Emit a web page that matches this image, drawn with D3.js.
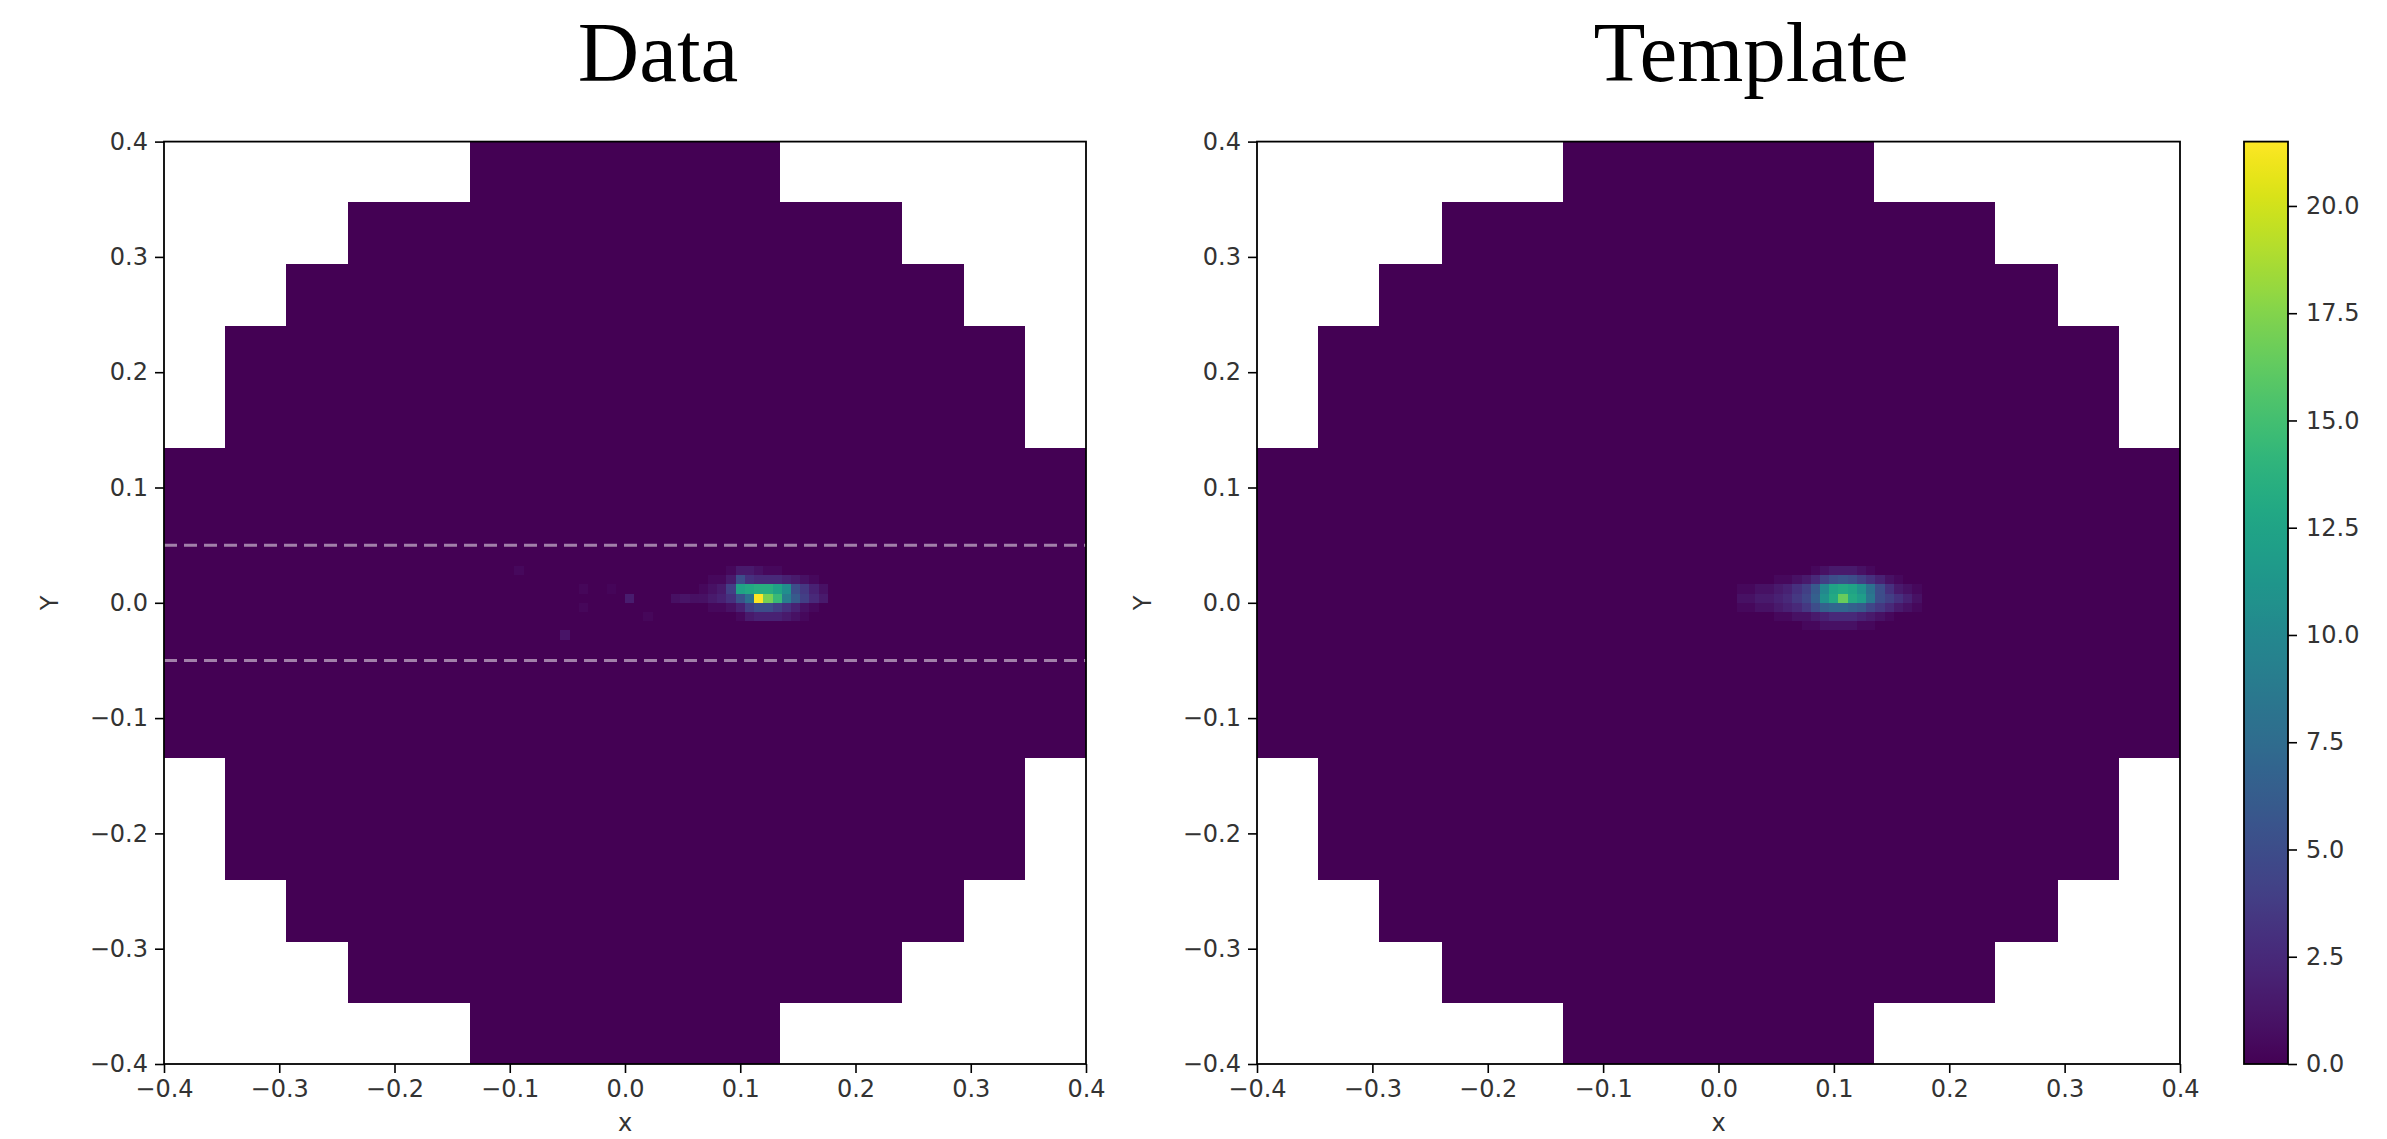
<!DOCTYPE html>
<html>
<head>
<meta charset="utf-8">
<script src="https://cdn.jsdelivr.net/npm/d3@7"></script>
<style>
  html, body { margin: 0; padding: 0; background: #fff; }
  svg { display: block; }
</style>
</head>
<body>
<svg id="chart" width="2387" height="1139"></svg>
<script>
// ---------------- DATA ----------------
const axisTicks = [-0.4, -0.3, -0.2, -0.1, 0.0, 0.1, 0.2, 0.3, 0.4];
const colorbarTicks = [0, 2.5, 5, 7.5, 10, 12.5, 15, 17.5, 20];
const colorMax = 21.5;
const binSize = 0.008;
const bandGuides = [0.05, -0.05];            // dashed lines on Data panel
// detector footprint: symmetric edges (staircase circle)
const footprintEdges = [0.1345, 0.240, 0.294, 0.3475, 0.4];

// Data hotspot grid: columns (x lower edges) and rows (y lower edges, top to bottom)
const dataCols = [0.064, 0.072, 0.080, 0.088, 0.096, 0.104, 0.112, 0.120, 0.128, 0.136, 0.144, 0.152, 0.160, 0.168];
const dataRows = [0.024, 0.016, 0.008, 0.000, -0.008, -0.016];
const dataValues = [
  [0,   0,   0,   0.5, 1.5, 1.5, 1,   0.5, 0.5, 0,   0,   0,   0,   0  ],
  [0,   0.5, 0.5, 1.5, 5,   3,   2.5, 2.5, 2.5, 2,   1.5, 1,   0.5, 0  ],
  [0.5, 1,   1.5, 4,   12.5,13,  13.5,13.5,12.5,10.5,5,   3.5, 2,   1  ],
  [1,   1.5, 2,   3,   5.5, 8,   21.5,17,  14.5,9,   6,   4,   2.5, 1.5],
  [0,   0.5, 0.5, 1,   2,   4,   5,   5,   4,   3,   2,   1,   0.5, 0  ],
  [0,   0,   0,   0,   0.5, 1.5, 2,   2,   2,   1.5, 1,   0.5, 0,   0  ]
];
// isolated faint hits in Data panel: [x lower edge, y lower edge, value]
const dataScatter = [
  [0.000, 0.000, 1.6], [0.040, 0.000, 0.9], [0.048, 0.000, 1.1], [0.056, 0.000, 0.9],
  [-0.056, -0.032, 1.1], [-0.040, 0.008, 0.4], [-0.040, -0.008, 0.4],
  [-0.096, 0.024, 0.5], [0.016, -0.016, 0.4], [-0.016, 0.008, 0.3]
];

// Template grid
const tmplCols = [0.016, 0.024, 0.032, 0.040, 0.048, 0.056, 0.064, 0.072, 0.080, 0.088, 0.096, 0.104, 0.112, 0.120, 0.128, 0.136, 0.144, 0.152, 0.160, 0.168];
const tmplRows = [0.024, 0.016, 0.008, 0.000, -0.008, -0.016, -0.024];
const tmplValues = [
  [0,   0,   0,   0,   0,   0,   0,   0,   0.5, 1,   1.5, 1.5, 1.5, 1,   0.5, 0,   0,   0,   0,   0  ],
  [0,   0,   0,   0,   0.5, 0.5, 1,   1.5, 2.5, 4,   5,   5.5, 5,   4,   3,   2,   1,   0.5, 0,   0  ],
  [0.5, 0.5, 1,   1,   1.5, 2,   3,   4,   6,   10,  12.5,13,  12.5,11,  8,   5,   3,   1.5, 1,   0.5],
  [1,   1,   1.5, 1.5, 2,   2.5, 3.5, 4.5, 6.5, 11,  13,  16.5,13,  12,  8.5, 5,   4,   3,   2,   1  ],
  [0.5, 0.5, 1,   1,   1.5, 2,   2.5, 3.5, 5,   6.5, 7,   7,   6.5, 6,   4.5, 3.5, 2.5, 1.5, 1,   0.5],
  [0,   0,   0,   0,   0.5, 0.5, 1,   1,   1.5, 2,   2.5, 2.5, 2.5, 2,   1.5, 1,   0.5, 0,   0,   0  ],
  [0,   0,   0,   0,   0,   0,   0,   0.5, 0.5, 1,   1,   1,   1,   0.5, 0.5, 0,   0,   0,   0,   0  ]
];

const titles = ["Data", "Template"];

// ---------------- DRAW ----------------
const svg = d3.select("#chart");
svg.append("rect").attr("width", 2387).attr("height", 1139).attr("fill", "#fff");

const color = d3.scaleSequential(d3.interpolateViridis).domain([0, colorMax]);
const yScale = d3.scaleLinear().domain([-0.4, 0.4]).range([1064, 141.6]);
const panels = [
  { x: d3.scaleLinear().domain([-0.4, 0.4]).range([164, 1086]), cols: dataCols, rows: dataRows, vals: dataValues, scatter: dataScatter, title: titles[0], titleX: 658, guides: true },
  { x: d3.scaleLinear().domain([-0.4, 0.4]).range([1257, 2180]), cols: tmplCols, rows: tmplRows, vals: tmplValues, scatter: [], title: titles[1], titleX: 1751, guides: false }
];

const fmt = d3.format(".1f");
const FONT = "DejaVu Sans, sans-serif";
const FS = 24;
const TXT = "#333";

function footprintBands() {
  const e = footprintEdges, n = e.length, out = [];
  for (let i = 0; i < n; i++) {
    const lo = i === 0 ? -e[0] : e[i - 1], hi = e[i], hw = e[n - 1 - i];
    out.push({ y0: lo, y1: hi, hw });
    if (i > 0) out.push({ y0: -hi, y1: -lo, hw });
  }
  return out;
}

panels.forEach(p => {
  const g = svg.append("g");
  const x = p.x;
  // footprint (value 0)
  g.selectAll("rect.band").data(footprintBands()).join("rect")
    .attr("class", "band")
    .attr("x", d => x(-d.hw)).attr("width", d => x(d.hw) - x(-d.hw))
    .attr("y", d => yScale(d.y1)).attr("height", d => yScale(d.y0) - yScale(d.y1))
    .attr("fill", color(0)).attr("shape-rendering", "crispEdges");

  // cells
  const cells = [];
  p.rows.forEach((ry, i) => p.cols.forEach((cx, j) => {
    const v = p.vals[i][j];
    if (v > 0) cells.push({ x0: cx, y0: ry, v });
  }));
  p.scatter.forEach(s => cells.push({ x0: s[0], y0: s[1], v: s[2] }));
  g.selectAll("rect.cell").data(cells).join("rect")
    .attr("class", "cell")
    .attr("x", d => x(d.x0)).attr("width", d => x(d.x0 + binSize) - x(d.x0))
    .attr("y", d => yScale(d.y0 + binSize)).attr("height", d => yScale(d.y0) - yScale(d.y0 + binSize))
    .attr("fill", d => color(d.v)).attr("shape-rendering", "crispEdges");

  if (p.guides) {
    g.selectAll("line.guide").data(bandGuides).join("line")
      .attr("x1", x(-0.4)).attr("x2", x(0.4))
      .attr("y1", d => yScale(d)).attr("y2", d => yScale(d))
      .attr("stroke", "#ffffff").attr("stroke-opacity", 0.5)
      .attr("stroke-width", 3).attr("stroke-dasharray", "13,7");
  }

  // frame
  g.append("rect")
    .attr("x", x(-0.4)).attr("y", yScale(0.4))
    .attr("width", x(0.4) - x(-0.4)).attr("height", yScale(-0.4) - yScale(0.4))
    .attr("fill", "none").attr("stroke", "#000").attr("stroke-width", 1.8);

  // axes
  const ax = g.append("g").attr("transform", `translate(0,${yScale(-0.4)})`)
    .call(d3.axisBottom(x).tickValues(axisTicks).tickFormat(fmt).tickSizeOuter(0).tickSize(9).tickPadding(7));
  const ay = g.append("g").attr("transform", `translate(${x(-0.4)},0)`)
    .call(d3.axisLeft(yScale).tickValues(axisTicks).tickFormat(fmt).tickSizeOuter(0).tickSize(9).tickPadding(7));
  [ax, ay].forEach(a => {
    a.select(".domain").remove();
    a.selectAll("line").attr("stroke", "#000").attr("stroke-width", 1.6);
    a.selectAll("text").attr("font-family", FONT).attr("font-size", FS).attr("fill", TXT);
  });

  // axis labels
  g.append("text").attr("x", (x(-0.4) + x(0.4)) / 2).attr("y", 1131)
    .attr("text-anchor", "middle").attr("font-family", FONT).attr("font-size", FS).attr("fill", TXT).text("x");
  g.append("text")
    .attr("transform", `translate(${x(-0.4) - 106},${yScale(0)}) rotate(-90)`)
    .attr("text-anchor", "middle").attr("font-family", FONT).attr("font-size", FS).attr("fill", TXT).text("Y");

  // title
  g.append("text").attr("x", p.titleX).attr("y", 81).attr("text-anchor", "middle")
    .attr("font-family", "Liberation Serif, serif").attr("font-size", 85).attr("fill", "#000").text(p.title);
});

// ---------------- COLORBAR ----------------
const cbX0 = 2244, cbX1 = 2288;
const cbScale = d3.scaleLinear().domain([0, colorMax]).range([1064, 141.6]);
const defs = svg.append("defs");
const grad = defs.append("linearGradient").attr("id", "viridisGrad")
  .attr("x1", 0).attr("y1", 1).attr("x2", 0).attr("y2", 0);
d3.range(0, 1.0001, 0.02).forEach(t => {
  grad.append("stop").attr("offset", t).attr("stop-color", d3.interpolateViridis(t));
});
svg.append("rect").attr("x", cbX0).attr("y", cbScale(colorMax))
  .attr("width", cbX1 - cbX0).attr("height", cbScale(0) - cbScale(colorMax))
  .attr("fill", "url(#viridisGrad)").attr("stroke", "#000").attr("stroke-width", 1.8);
const cax = svg.append("g").attr("transform", `translate(${cbX1},0)`)
  .call(d3.axisRight(cbScale).tickValues(colorbarTicks).tickFormat(fmt).tickSizeOuter(0).tickSize(9).tickPadding(9));
cax.select(".domain").remove();
cax.selectAll("line").attr("stroke", "#000").attr("stroke-width", 1.6);
cax.selectAll("text").attr("font-family", FONT).attr("font-size", FS).attr("fill", TXT);
</script>
</body>
</html>
